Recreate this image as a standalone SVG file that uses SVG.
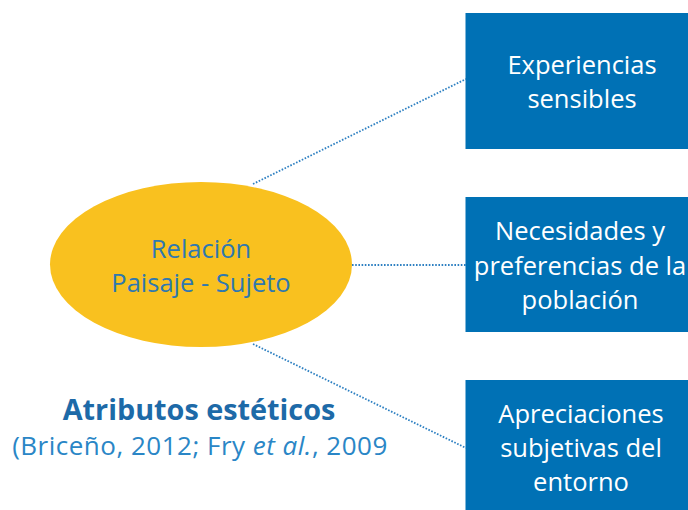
<svg xmlns="http://www.w3.org/2000/svg" width="688" height="510" viewBox="0 0 688 510">
<style>
.box{fill:#0071b5}
.bt{font-family:"Open Sans","Noto Sans",sans-serif;font-size:25.5px;fill:#ffffff;text-anchor:middle}
.et{font-family:"Open Sans","Noto Sans",sans-serif;font-size:25.5px;fill:#2f78b0;text-anchor:middle}
.conn{stroke:#2e80c2;stroke-width:1.8;stroke-dasharray:1.6 1.6;fill:none}
</style>
<rect width="688" height="510" fill="#ffffff"/>
<g id="connectors">
<line class="conn" x1="253" y1="184" x2="466" y2="79"/>
<line class="conn" x1="352" y1="265" x2="466" y2="265"/>
<line class="conn" x1="253" y1="344" x2="466" y2="448"/>
</g>
<g id="relacion">
<ellipse cx="201" cy="264.5" rx="151" ry="82.5" fill="#f9c11f"/>
<text class="et" x="201" y="258">Relación</text>
<text class="et" x="201" y="292">Paisaje - Sujeto</text>
</g>
<g id="experiencias">
<rect class="box" x="465.5" y="13" width="230" height="136"/>
<text class="bt" x="582" y="74">Experiencias</text>
<text class="bt" x="582" y="108">sensibles</text>
</g>
<g id="necesidades">
<rect class="box" x="465.5" y="197" width="230" height="135"/>
<text class="bt" x="580" y="240">Necesidades y</text>
<text class="bt" x="580" y="275">preferencias de la</text>
<text class="bt" x="580" y="309">población</text>
</g>
<g id="apreciaciones">
<rect class="box" x="465.5" y="380" width="230" height="140"/>
<text class="bt" x="581" y="423">Apreciaciones</text>
<text class="bt" x="581" y="457">subjetivas del</text>
<text class="bt" x="581" y="491">entorno</text>
</g>
<g id="atributos">
<text x="199" y="420" font-family="'Open Sans','Noto Sans',sans-serif" font-size="28.8" font-weight="bold" fill="#1d6aa8" text-anchor="middle">Atributos estéticos</text>
<text x="200" y="455" font-family="'Open Sans','Noto Sans',sans-serif" font-size="26" letter-spacing="0.5" fill="#2a86c6" text-anchor="middle">(Briceño, 2012; Fry <tspan font-style="italic">et al.</tspan>, 2009</text>
</g>
</svg>
